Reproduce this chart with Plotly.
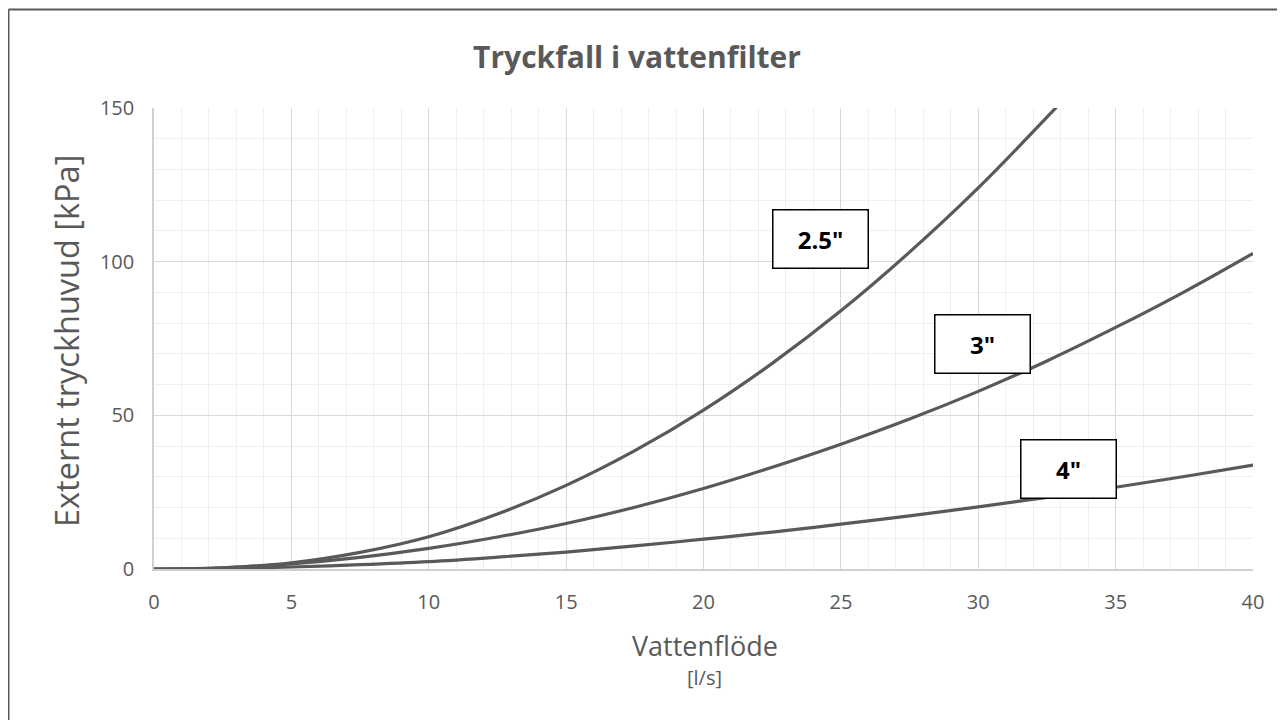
import plotly.graph_objects as go

# Data
flow = [0, 2.5, 5, 7.5, 10, 12.5, 15, 17.5, 20, 22.5, 25, 27.5, 30, 32.5, 35, 37.5, 40]
dp_25 = [0, 0.4, 2.0, 5.4, 10.5, 17.9, 27.2, 38.5, 51.7, 66.9, 84.0, 103.1, 124.0, 147.0, 171.0, None, None]
dp_3 = [0, 0.4, 1.7, 3.8, 6.7, 10.4, 14.8, 20.1, 26.2, 33.1, 40.6, 48.8, 57.8, 67.7, 78.6, 90.2, 102.7]
dp_4 = [0, 0.15, 0.65, 1.4, 2.4, 3.85, 5.5, 7.5, 9.7, 12.0, 14.6, 17.3, 20.2, 23.3, 26.6, 30.1, 33.8]

series_names = ['2.5"', '3"', '4"']
series_values = [dp_25, dp_3, dp_4]
label_x = [24.26, 30.14, 33.27]
label_y = [107.5, 73.2, 32.5]

x_ticks = [0, 5, 10, 15, 20, 25, 30, 35, 40]
y_ticks = [0, 50, 100, 150]

title_text = "Tryckfall i vattenfilter"
x_title = "Vattenflöde"
x_unit = "[l/s]"
y_title = "Externt tryckhuvud [kPa]"

GRAY = "#595959"
FONT = "Open Sans"

fig = go.Figure()
for name, vals in zip(series_names, series_values):
    fig.add_trace(go.Scatter(
        x=flow, y=vals, mode="lines", name=name,
        line=dict(color=GRAY, width=3.2, shape="spline", smoothing=1.0),
        connectgaps=False, hoverinfo="x+y+name",
    ))

annotations = []
for name, lx, ly in zip(series_names, label_x, label_y):
    annotations.append(dict(
        x=lx, y=ly, xref="x", yref="y", text="<b>%s</b>" % name, showarrow=False,
        font=dict(family=FONT, size=24, color="black"),
        bgcolor="white", bordercolor="black", borderwidth=1.5, borderpad=0,
        width=94, height=57, align="center", valign="middle",
    ))

# axis titles
annotations.append(dict(
    x=-0.0792, y=0.4946, xref="paper", yref="paper", text=y_title, textangle=-90,
    showarrow=False, font=dict(family=FONT, size=32.5, color=GRAY),
    xanchor="center", yanchor="middle",
))
annotations.append(dict(
    x=0.501, y=-0.1649, xref="paper", yref="paper", text=x_title,
    showarrow=False, font=dict(family=FONT, size=27, color=GRAY),
    xanchor="center", yanchor="middle",
))
annotations.append(dict(
    x=0.501, y=-0.2364, xref="paper", yref="paper", text=x_unit,
    showarrow=False, font=dict(family=FONT, size=20, color=GRAY),
    xanchor="center", yanchor="middle",
))

shapes = [
    dict(type="line", xref="paper", yref="paper", x0=-0.1324, x1=1.04, y0=1.2137, y1=1.2137,
         line=dict(color=GRAY, width=2)),
    dict(type="line", xref="paper", yref="paper", x0=-0.1324, x1=-0.1324, y0=1.2137, y1=-0.36,
         line=dict(color=GRAY, width=2)),
]

fig.update_layout(
    width=1285, height=720,
    margin=dict(l=146, r=40, t=100, b=159),
    paper_bgcolor="white", plot_bgcolor="white",
    showlegend=False,
    title=dict(text="<b>%s</b>" % title_text, x=629 / 1285, xref="container", xanchor="center",
               y=1 - 49 / 720, yref="container", yanchor="middle",
               font=dict(family=FONT, size=30, color=GRAY)),
    annotations=annotations,
    shapes=shapes,
    xaxis=dict(
        range=[0, 40], tickvals=x_ticks, ticktext=[str(v) for v in x_ticks],
        showgrid=True, gridcolor="#d9d9d9", gridwidth=1,
        minor=dict(dtick=1, showgrid=True, gridcolor="#efefef", gridwidth=1),
        showline=True, linecolor="#d0d0d0", linewidth=1.5,
        ticks="", ticklabelstandoff=14, zeroline=False,
        tickfont=dict(family=FONT, size=20, color=GRAY),
    ),
    yaxis=dict(
        range=[0, 150], tickvals=y_ticks, ticktext=[str(v) for v in y_ticks],
        showgrid=True, gridcolor="#d9d9d9", gridwidth=1,
        minor=dict(dtick=10, showgrid=True, gridcolor="#efefef", gridwidth=1),
        showline=True, linecolor="#d0d0d0", linewidth=1.5,
        ticks="", ticklabelstandoff=14, zeroline=False,
        tickfont=dict(family=FONT, size=20, color=GRAY),
    ),
)

fig.write_html("out.html")
